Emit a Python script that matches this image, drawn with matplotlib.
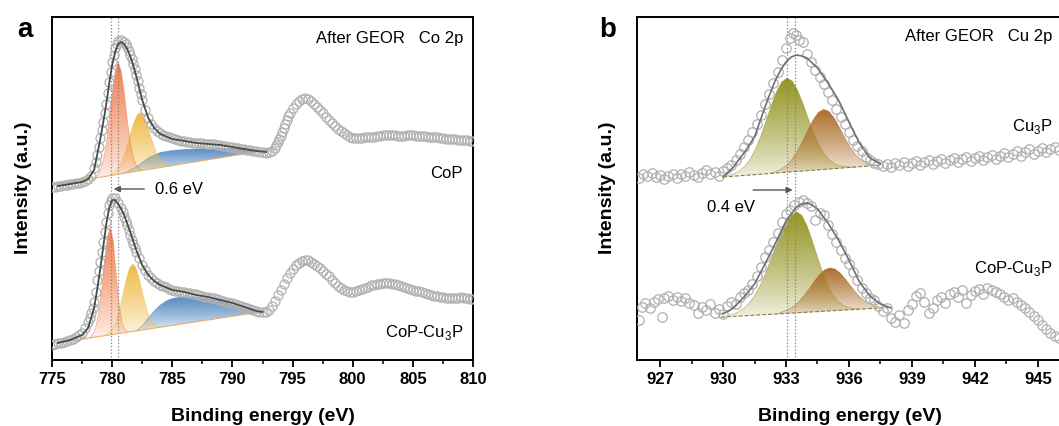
import numpy as np
import matplotlib
matplotlib.use('Agg')
import matplotlib.pyplot as plt
from matplotlib.patches import Polygon
from matplotlib.colors import to_rgb
from matplotlib.ticker import MultipleLocator

plt.rcParams['font.family'] = ['Liberation Sans', 'DejaVu Sans']
plt.rcParams['mathtext.fontset'] = 'custom'
plt.rcParams['mathtext.rm'] = 'Liberation Sans'
plt.rcParams['mathtext.bf'] = 'Liberation Sans:bold'

# ---------------- panel a : Co 2p ----------------
co_cop = [(775.0,173),(775.25,173.5),(775.5,174),(775.75,174.5),(776.0,175),(776.25,175.5),(776.5,176),
          (776.75,176.5),(777.0,177),(777.25,177.5),(777.5,178),(777.75,179.5),(778.0,181),(778.25,184),
          (778.5,192),(778.625,198),(778.75,205),(778.875,213),(779.0,222),(779.125,230),(779.25,238),
          (779.375,247),(779.5,256),(779.625,267),(779.75,278),(779.875,288),(780.0,298),(780.125,305),
          (780.25,312),(780.375,316),(780.5,319),(780.75,320),(781.0,318),(781.125,316),(781.25,313),
          (781.375,309),(781.5,305),(781.625,301),(781.75,296),(781.875,291),(782.0,285),(782.125,279),
          (782.25,272),(782.375,266),(782.5,260),(782.75,250),(783.0,242),(783.25,236),(783.5,232),
          (783.75,229),(784.0,227),(784.25,225.5),(784.5,224),(784.75,223),(785.0,222),(785.25,221),
          (785.5,220),(785.75,219.5),(786.0,219),(786.25,218.5),(786.5,218),(786.75,217.5),(787.0,217),
          (787.25,217),(787.5,217),(787.75,216.5),(788.0,216),(788.25,216),(788.5,216),(788.75,215.5),
          (789.0,215),(789.25,214.5),(789.5,214),(789.75,213.5),(790.0,213),(790.25,212.5),(790.5,212),
          (790.75,211.5),(791.0,211),(791.25,210.5),(791.5,210),(791.75,209.5),(792.0,209),(792.25,208.5),
          (792.5,208),(792.75,207.5),(793.0,208),(793.25,209),(793.5,212),(793.625,215),(793.75,218),
          (793.875,221),(794.0,224),(794.125,228),(794.25,232),(794.375,236),(794.5,240),(794.625,244),
          (794.75,247),(795.0,252),(795.25,256),(795.5,259),(795.75,261),(796.0,262),(796.25,261),
          (796.5,259),(796.75,256),(797.0,253),(797.25,250),(797.5,247),(797.75,243),(798.0,240),
          (798.25,237),(798.5,234),(798.75,231.5),(799.0,229),(799.25,227),(799.5,225),(799.75,223.5),
          (800.0,222),(800.25,222),(800.5,222),(800.75,222.5),(801.0,223),(801.25,223),(801.5,223),
          (801.75,223.5),(802.0,224),(802.25,224.5),(802.5,225),(802.75,225),(803.0,225),(803.25,225.5),
          (803.5,225),(803.75,224.5),(804.0,224),(804.25,224.5),(804.5,225),(804.75,225),(805.0,225),
          (805.25,224.5),(805.5,224),(805.75,224),(806.0,224),(806.25,223.5),(806.5,223),(806.75,223),
          (807.0,223),(807.25,222.5),(807.5,222),(807.75,221.5),(808.0,221),(808.25,221),(808.5,221),
          (808.75,220.5),(809.0,220),(809.25,220),(809.5,220),(809.75,219.5),(810.0,219)]

co_copcu = [(775.0,15),(775.25,16),(775.5,17),(775.75,17.5),(776.0,18),(776.25,19),(776.5,20),(776.75,21.5),
            (777.0,23),(777.25,25),(777.5,27),(777.75,32),(778.0,38),(778.125,42),(778.25,47),(778.375,52),
            (778.5,58),(778.625,68),(778.75,80),(778.875,89),(779.0,98),(779.125,108),(779.25,118),
            (779.375,128),(779.5,138),(779.625,147),(779.75,155),(779.875,159),(780.0,162),(780.25,162),
            (780.5,157),(780.75,152),(780.875,148),(781.0,143),(781.125,139),(781.25,135),(781.375,130),
            (781.5,125),(781.625,120),(781.75,116),(781.875,112),(782.0,108),(782.25,102),(782.5,95),
            (782.75,90),(783.0,85),(783.25,82),(783.5,79),(783.75,77),(784.0,75),(784.25,74),(784.5,73),
            (784.75,71.5),(785.0,70),(785.25,69.5),(785.5,69),(785.75,68.5),(786.0,68),(786.25,67.5),
            (786.5,67),(786.75,66.5),(787.0,66),(787.25,65),(787.5,64),(787.75,63.5),(788.0,63),
            (788.25,62.5),(788.5,62),(788.75,61),(789.0,60),(789.25,59),(789.5,58),(789.75,57.5),
            (790.0,57),(790.25,56),(790.5,55),(790.75,54),(791.0,53),(791.25,52),(791.5,51),(791.75,50),
            (792.0,49),(792.25,48.5),(792.5,48),(792.75,48.5),(793.0,50),(793.25,54),(793.5,59),
            (793.75,65),(794.0,70),(794.25,76),(794.5,82),(794.75,87),(795.0,91),(795.25,95),(795.5,97),
            (795.75,99),(796.0,100),(796.25,100),(796.5,98),(796.75,96),(797.0,94),(797.25,92),(797.5,89),
            (797.75,86),(798.0,84),(798.25,80.5),(798.5,77),(798.75,74.5),(799.0,72),(799.25,70.5),
            (799.5,69),(799.75,68.5),(800.0,68),(800.25,69),(800.5,70),(800.75,71),(801.0,72),(801.25,73.5),
            (801.5,75),(801.75,75.5),(802.0,76),(802.25,76.5),(802.5,77),(802.75,77),(803.0,77),
            (803.25,76.5),(803.5,76),(803.75,75),(804.0,74),(804.25,73),(804.5,72),(804.75,71),(805.0,70),
            (805.25,69.5),(805.5,69),(805.75,68),(806.0,67),(806.25,66),(806.5,65),(806.75,64.5),(807.0,64),
            (807.25,63.5),(807.5,63),(807.75,62.5),(808.0,62),(808.25,62),(808.5,62),(808.75,62.5),
            (809.0,63),(809.25,62.5),(809.5,62),(809.75,61.5),(810.0,61)]

# fitted components (top edge, ends sit on the baseline)
co_orange_1 = [(778.0,181),(778.25,182),(778.5,182.4),(778.75,184.4),(779.0,188.8),(779.25,198),(779.5,214),
               (779.75,238),(780.0,266),(780.25,288),(780.5,298),(780.75,289),(781.0,268),(781.25,241),
               (781.5,218),(781.75,203),(782.0,194.6),(782.25,191),(782.5,189.6)]
co_yellow_1 = [(779.8,184.3),(780.05,186.5),(780.3,188.9),(780.55,192.8),(780.8,198.5),(781.05,206.5),
               (781.3,216.3),(781.55,227.1),(781.8,237.0),(782.05,244.3),(782.3,247.2),(782.55,245.3),
               (782.8,239.0),(783.05,229.9),(783.3,220.1),(783.55,211.3),(783.8,204.3),(784.05,199.6),
               (784.3,196.7),(784.55,195.3),(784.8,194.1)]
co_blue_1 = [(781.0,186.7),(782.0,193),(783.0,202),(784.0,207.5),(785.0,209.5),(786.0,210.5),(787.0,211),
             (788.0,211.5),(789.0,211.5),(790.0,211.5),(791.0,211),(792.0,210),(792.8,209.6)]
co_base_1 = [(775.0,175),(793.0,210)]
co_fit_1 = [(775.5,174),(776.5,176),(777.5,178),(778.0,181),(778.5,190),(779.0,220),(779.25,237),(779.5,255),
            (779.75,276),(780.0,295),(780.25,308),(780.5,316),(780.75,318),(781.0,316),(781.25,311),
            (781.5,304),(781.75,295),(782.0,284),(782.25,272),(782.5,260),(783.0,242),(783.5,232),
            (784.0,226),(785.0,221),(786.0,219),(787.0,217),(788.0,216),(789.0,215),(790.0,213),
            (791.0,211),(792.0,209),(792.8,208)]

co_orange_2 = [(778.1,21.9),(778.35,25.0),(778.6,31.0),(778.85,44.0),(779.1,66.4),(779.35,95.6),(779.6,122.1),
               (779.85,133.1),(780.1,118.2),(780.35,84.4),(780.6,53.5),(780.85,36.1),(781.1,29.7),(781.35,27.9)]
co_yellow_2 = [(779.45,24.4),(779.7,26.8),(779.95,29.7),(780.2,34.9),(780.45,43.0),(780.7,54.4),(780.95,68.0),
               (781.2,81.7),(781.45,91.9),(781.7,96.0),(781.95,92.8),(782.2,83.5),(782.45,70.8),(782.7,58.1),
               (782.95,47.6),(783.2,40.4),(783.45,36.1),(783.7,34.1),(783.95,32.6)]
co_blue_2 = [(782.0,29.1),(782.5,34),(783.0,42),(783.5,49),(784.0,55),(784.5,59),(785.0,61.5),(785.5,62.5),
             (786.0,63),(786.5,63),(787.0,62.5),(787.5,62),(788.0,61),(788.5,60),(789.0,58.5),(789.5,57),
             (790.0,55),(790.5,53),(791.0,51),(791.5,49.5),(792.0,48.2),(792.5,48.3)]
co_base_2 = [(775.6,17.4),(792.5,48.3)]
co_fit_2 = [(775.5,17),(776.5,20),(777.5,25),(778.0,32),(778.5,52),(778.75,70),(779.0,90),(779.25,112),
            (779.5,135),(779.75,152),(780.0,160),(780.25,160),(780.5,156),(780.75,151),(781.0,145),
            (781.5,128),(782.0,110),(782.5,95),(783.0,85),(783.5,79),(784.0,75),(785.0,70),(786.0,68),
            (787.0,65),(788.0,63),(789.0,60),(790.0,57),(791.0,53),(792.0,49),(792.5,48)]

co_shift = [779.9, 780.5]

# ---------------- panel b : Cu 2p ----------------
cu_cu3p = [(926.0,182),(926.2,186),(926.4,184),(926.6,187),(926.8,183),(927.0,185),(927.2,181),(927.4,184),
           (927.6,186),(927.8,182),(928.0,186),(928.2,184),(928.4,188),(928.6,185),(928.8,183),(929.0,187),
           (929.2,190),(929.4,186),(929.6,188),(929.8,184),(930.0,189),(930.2,192),(930.4,195),(930.6,200),
           (930.8,206),(931.0,213),(931.2,220),(931.4,228),(931.6,236),(931.8,245),(932.0,256),(932.2,266),
           (932.4,277),(932.6,288),(932.8,300),(933.0,312),(933.2,322),(933.35,327),(933.5,325),(933.6,320),
           (933.8,318),(934.0,306),(934.2,298),(934.4,290),(934.6,283),(934.8,276),(935.0,268),(935.2,260),
           (935.4,251),(935.6,243),(935.8,236),(936.0,228),(936.2,220),(936.4,214),(936.6,209),(936.8,203),
           (937.0,200),(937.2,197),(937.4,196),(937.6,194),(937.8,196),(938.0,193),(938.2,197),(938.4,195),
           (938.6,198),(938.8,194),(939.0,197),(939.2,199),(939.4,195),(939.6,198),(939.8,200),(940.0,196),
           (940.2,199),(940.4,201),(940.6,197),(940.8,200),(941.0,202),(941.2,198),(941.4,201),(941.6,203),
           (941.8,199),(942.0,202),(942.2,204),(942.4,200),(942.6,203),(942.8,205),(943.0,201),(943.2,204),
           (943.4,207),(943.6,203),(943.8,206),(944.0,209),(944.2,204),(944.4,208),(944.6,211),(944.8,206),
           (945.0,209),(945.2,212),(945.4,208),(945.6,211),(945.8,213),(946.0,210)]

cu_copcu = [(926.0,40),(926.15,53),(926.3,57),(926.5,52),(926.7,58),(926.9,61),(927.1,43),(927.2,62),
            (927.4,64),(927.6,60),(927.8,63),(928.0,59),(928.2,62),(928.4,57),(928.6,55),(928.8,47),
            (929.0,53),(929.2,50),(929.4,56),(929.6,47),(929.8,51),(930.0,46),(930.2,54),(930.4,58),
            (930.6,56),(930.8,63),(931.0,67),(931.2,70),(931.4,76),(931.6,84),(931.8,93),(932.0,103),
            (932.2,110),(932.4,118),(932.6,127),(932.8,138),(933.0,146),(933.2,150),(933.4,155),(933.6,158),
            (933.8,160),(934.0,157),(934.2,154),(934.4,140),(934.6,147),(934.8,145),(935.0,135),(935.2,126),
            (935.4,118),(935.6,110),(935.8,102),(936.0,96),(936.2,88),(936.4,80),(936.6,72),(936.8,67),
            (937.0,62),(937.2,60),(937.4,54),(937.6,49),(937.8,52),(938.0,42),(938.2,38),(938.4,45),
            (938.6,37),(938.8,50),(939.0,56),(939.2,64),(939.4,67),(939.6,58),(939.8,47),(940.0,52),
            (940.2,60),(940.4,63),(940.6,57),(940.8,66),(941.0,68),(941.2,63),(941.4,70),(941.6,57),
            (941.8,65),(942.0,69),(942.2,71),(942.4,66),(942.6,72),(942.8,70),(943.0,68),(943.2,66),
            (943.4,63),(943.6,60),(943.8,62),(944.0,58),(944.2,55),(944.4,52),(944.6,48),(944.8,44),
            (945.0,40),(945.2,35),(945.4,31),(945.6,27),(945.8,24),(946.0,22)]

cu_olive_1 = [(930.05,183.1),(930.3,184.7),(930.55,186.4),(930.8,189.3),(931.05,194.0),(931.3,201.1),
              (931.55,211.0),(931.8,223.9),(932.05,238.9),(932.3,254.5),(932.55,268.3),(932.8,278.1),
              (933.05,281.8),(933.3,278.9),(933.55,269.9),(933.8,256.9),(934.05,242.1),(934.3,227.9),
              (934.55,215.8),(934.8,206.6),(935.05,200.3),(935.3,196.4),(935.55,194.3),(935.8,193.4),
              (936.05,193.1),(936.3,193.0)]
cu_brown_1 = [(932.3,186.6),(932.55,188.8),(932.8,191.2),(933.05,195.0),(933.3,200.9),(933.55,208.9),
              (933.8,219.0),(934.05,230.1),(934.3,240.3),(934.55,247.7),(934.8,250.6),(935.05,248.5),
              (935.3,241.9),(935.55,232.5),(935.8,222.2),(936.05,212.9),(936.3,205.7),(936.55,200.6),
              (936.8,197.6),(937.05,195.9),(937.3,194.5)]
cu_base_1 = [(930.0,183),(937.6,195)]
cu_fit_1 = [(930.0,183),(930.5,193),(931.0,207),(931.5,223),(931.75,238),(932.0,253),(932.25,267),(932.5,280),
            (932.75,290),(933.0,298),(933.25,303),(933.5,305),(933.75,304),(934.0,302),(934.5,292),
            (935.0,277),(935.5,260),(936.0,238),(936.5,217),(937.0,202),(937.5,196)]

cu_olive_2 = [(930.0,43.0),(930.25,44.6),(930.5,46.0),(930.75,48.3),(931.0,51.8),(931.25,56.9),(931.5,64.2),
              (931.75,73.6),(932.0,85.3),(932.25,98.6),(932.5,112.8),(932.75,126.4),(933.0,137.7),
              (933.25,145.3),(933.5,148.2),(933.75,144.7),(934.0,134.4),(934.25,119.5),(934.5,102.9),
              (934.75,87.2),(935.0,74.2),(935.25,64.5),(935.5,58.1),(935.75,54.3),(936.0,52.3),
              (936.25,51.4),(936.5,50.8)]
cu_brown_2 = [(932.6,46.1),(932.85,48.3),(933.1,50.3),(933.35,53.5),(933.6,58.0),(933.85,64.0),(934.1,71.1),
              (934.35,78.6),(934.6,85.4),(934.85,90.2),(935.1,92.1),(935.35,90.8),(935.6,86.6),(935.85,80.4),
              (936.1,73.5),(936.35,67.0),(936.6,61.6),(936.85,57.7),(937.1,55.1),(937.35,53.7),(937.6,52.1)]
cu_base_2 = [(929.9,42.9),(938.0,52.6)]
cu_fit_2 = [(930.0,46),(930.5,52),(931.0,63),(931.5,76),(932.0,96),(932.5,117),(933.0,139),(933.5,153),
            (933.75,156),(934.0,157),(934.25,155),(934.5,151),(935.0,137),(935.5,120),(936.0,100),
            (936.5,78),(937.0,64),(937.5,56),(938.0,52)]

cu_shift = [933.05, 933.45]


def xy(pairs):
    a = np.array(pairs, dtype=float)
    return a[:, 0], a[:, 1]


def grad_fill(ax, pairs, color, a_top=0.95, a_bot=0.1, z=1):
    xs, ys = xy(pairs)
    poly = Polygon(np.column_stack([xs, ys]), closed=True, facecolor='none',
                   edgecolor='none')
    ax.add_patch(poly)
    n = 200
    img = np.zeros((n, 2, 4))
    img[..., :3] = to_rgb(color)
    t = np.linspace(1, 0, n) ** 0.8
    img[..., 3] = (a_bot + (a_top - a_bot) * t)[:, None]
    im = ax.imshow(img, extent=[xs.min(), xs.max(), ys.min(), ys.max()],
                   origin='upper', aspect='auto', zorder=z, interpolation='bilinear')
    im.set_clip_path(poly)
    ax.plot(xs, ys, color=color, lw=0.6, alpha=0.5, zorder=z + 0.1)


def data(ax, pairs, ms=6.5):
    x, y = xy(pairs)
    ax.plot(x, y, 'o', ms=ms, mfc='none', mec='#b0b0b0', mew=0.9, zorder=3)


def line(ax, pairs, color, lw=1.2, ls='-', z=4):
    x, y = xy(pairs)
    ax.plot(x, y, color=color, lw=lw, ls=ls, zorder=z)


fig = plt.figure(figsize=(10.59, 4.26), dpi=100)
ax1 = fig.add_axes([52 / 1059, 66 / 426, 421 / 1059, 343 / 426])
ax2 = fig.add_axes([637 / 1059, 66 / 426, 426 / 1059, 343 / 426])

# ----- a -----
for x in co_shift:
    ax1.axvline(x, color='#808080', ls=':', lw=0.9, zorder=2)
grad_fill(ax1, co_blue_1, '#4f86c0')
grad_fill(ax1, co_yellow_1, '#efb840')
grad_fill(ax1, co_orange_1, '#f07a45')
grad_fill(ax1, co_blue_2, '#4f86c0')
grad_fill(ax1, co_yellow_2, '#efb840')
grad_fill(ax1, co_orange_2, '#f07a45')
line(ax1, co_base_1, '#e8b070', lw=0.8, z=2)
line(ax1, co_base_2, '#e8b070', lw=0.8, z=2)
data(ax1, co_cop)
data(ax1, co_copcu)
line(ax1, co_fit_1, '#4a4a4a', lw=1.3)
line(ax1, co_fit_2, '#4a4a4a', lw=1.3)

ax1.annotate('', xy=(779.9, 171), xytext=(782.9, 171),
             arrowprops=dict(arrowstyle='-|>', color='#555555', lw=1.0, mutation_scale=9))
ax1.text(783.55, 171, '0.6 eV', fontsize=12, ha='left', va='center')
ax1.text(809.2, 321, 'After GEOR   Co 2p', fontsize=12, ha='right', va='center')
ax1.text(809.1, 187, 'CoP', fontsize=12, ha='right', va='center')
ax1.text(809.2, 27, r'CoP-Cu$_\mathrm{3}$P', fontsize=12, ha='right', va='center')

ax1.set_xlim(775, 810)
ax1.xaxis.set_major_locator(MultipleLocator(5))
ax1.xaxis.set_minor_locator(MultipleLocator(2.5))

# ----- b -----
for x in cu_shift:
    ax2.axvline(x, color='#808080', ls=':', lw=0.9, zorder=2)
grad_fill(ax2, cu_olive_1, '#8f8f18')
grad_fill(ax2, cu_brown_1, '#a8661f')
grad_fill(ax2, cu_olive_2, '#8f8f18')
grad_fill(ax2, cu_brown_2, '#a8661f')
line(ax2, cu_base_1, '#8a7a40', lw=0.8, ls='--', z=2)
line(ax2, cu_base_2, '#8a7a40', lw=0.8, ls='--', z=2)
data(ax2, cu_cu3p, ms=6.8)
data(ax2, cu_copcu, ms=6.8)
line(ax2, cu_fit_1, '#707070', lw=1.2)
line(ax2, cu_fit_2, '#707070', lw=1.2)

ax2.annotate('', xy=(933.45, 170), xytext=(931.3, 170),
             arrowprops=dict(arrowstyle='-|>', color='#555555', lw=1.0, mutation_scale=9))
ax2.text(929.25, 153, '0.4 eV', fontsize=12, ha='left', va='center')
ax2.text(945.7, 323, 'After GEOR   Cu 2p', fontsize=12, ha='right', va='center')
ax2.text(945.7, 234, r'Cu$_\mathrm{3}$P', fontsize=12, ha='right', va='center')
ax2.text(945.7, 91, r'CoP-Cu$_\mathrm{3}$P', fontsize=12, ha='right', va='center')

ax2.set_xlim(925.9, 946.2)
ax2.xaxis.set_major_locator(MultipleLocator(3))
ax2.xaxis.set_minor_locator(MultipleLocator(1.5))

for ax in (ax1, ax2):
    ax.set_ylim(0, 343)
    ax.set_yticks([])
    for s in ax.spines.values():
        s.set_linewidth(1.4)
    ax.tick_params(axis='x', which='major', direction='out', length=5, width=1.3,
                   labelsize=12, pad=3.5)
    ax.tick_params(axis='x', which='minor', direction='out', length=3, width=1.1)
    for lab in ax.get_xticklabels():
        lab.set_fontweight('bold')

fig.text(263 / 1059, 5 / 426, 'Binding energy (eV)', fontsize=14, fontweight='bold',
         ha='center', va='baseline')
fig.text(850 / 1059, 5 / 426, 'Binding energy (eV)', fontsize=14, fontweight='bold',
         ha='center', va='baseline')
fig.text(24 / 1059, 1 - 188 / 426, 'Intensity (a.u.)', fontsize=14, fontweight='bold',
         ha='center', va='center', rotation=90)
fig.text(607 / 1059, 1 - 188 / 426, 'Intensity (a.u.)', fontsize=14, fontweight='bold',
         ha='center', va='center', rotation=90)
fig.text(25 / 1059, 1 - 37 / 426, 'a', fontsize=20, fontweight='bold', ha='center', va='baseline')
fig.text(608 / 1059, 1 - 37 / 426, 'b', fontsize=20, fontweight='bold', ha='center', va='baseline')

fig.savefig('out.png', dpi=100)
